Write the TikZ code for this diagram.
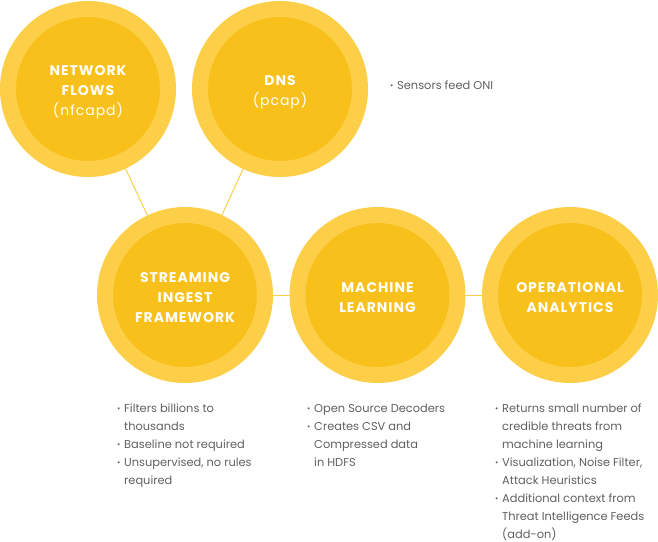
\documentclass[tikz,border=0pt]{standalone}
\usepackage{fontspec}
\setmainfont{Poppins}
\newfontfamily\headfont{Poppins}[LetterSpace=7]
\definecolor{ringyellow}{HTML}{FDCF48}
\definecolor{coreyellow}{HTML}{F8C01A}
\definecolor{notegray}{HTML}{606060}
\newcommand{\blt}{\makebox[7pt][l]{\raisebox{1pt}{\fontsize{8}{8}\selectfont•}}}
\newcommand{\ind}{\hspace*{7pt}}
\begin{document}
\begin{tikzpicture}[x=1pt,y=-1pt]
	\tikzset{stage/.style={circle,minimum size=160pt,inner sep=0pt,fill=coreyellow,draw=ringyellow,line width=16pt},
		caption/.style={text=white,align=center,font=\headfont\bfseries\fontsize{14}{20}\selectfont,yshift=-3pt},
		link/.style={ringyellow,line width=1pt},
		note/.style={anchor=north west,inner sep=0pt,align=left,text=notegray,font=\fontsize{11.4}{17.9}\selectfont}}
	\useasboundingbox (0,0) rectangle (658,541);
	\node[stage,label={[caption]center:NETWORK\\FLOWS\\{\mdseries(nfcapd)}}] (nf) at (88,89) {};
	\node[stage,label={[caption]center:DNS\\{\mdseries(pcap)}}] (dns) at (280,89) {};
	\node[stage,label={[caption]center:STREAMING\\INGEST\\FRAMEWORK}] (sif) at (185,295) {};
	\node[stage,label={[caption]center:MACHINE\\LEARNING}] (ml) at (377.5,295) {};
	\node[stage,label={[caption]center:OPERATIONAL\\ANALYTICS}] (oa) at (570,295) {};
	\foreach \a/\b in {nf/sif,dns/sif,sif/ml,ml/oa}
	\draw[link] (\a)--(\b);
	\node[note] (sensors) at (390,81) {\blt Sensors feed ONI};
	\node[note] (sifnotes) at (117,404) {\blt Filters billions to\\\ind thousands\\\blt Baseline not required\\\blt Unsupervised, no rules\\\ind required};
	\node[note] (mlnotes) at (307,404) {\blt Open Source Decoders\\\blt Creates CSV and\\\ind Compressed data\\\ind in HDFS};
	\node[note] (oanotes) at (495,404) {\blt Returns small number of\\\ind credible threats from\\\ind machine learning\\\blt Visualization, Noise Filter,\\\ind Attack Heuristics\\\blt Additional context from\\\ind Threat Intelligence Feeds\\\ind (add-on)};
\end{tikzpicture}
\end{document}
